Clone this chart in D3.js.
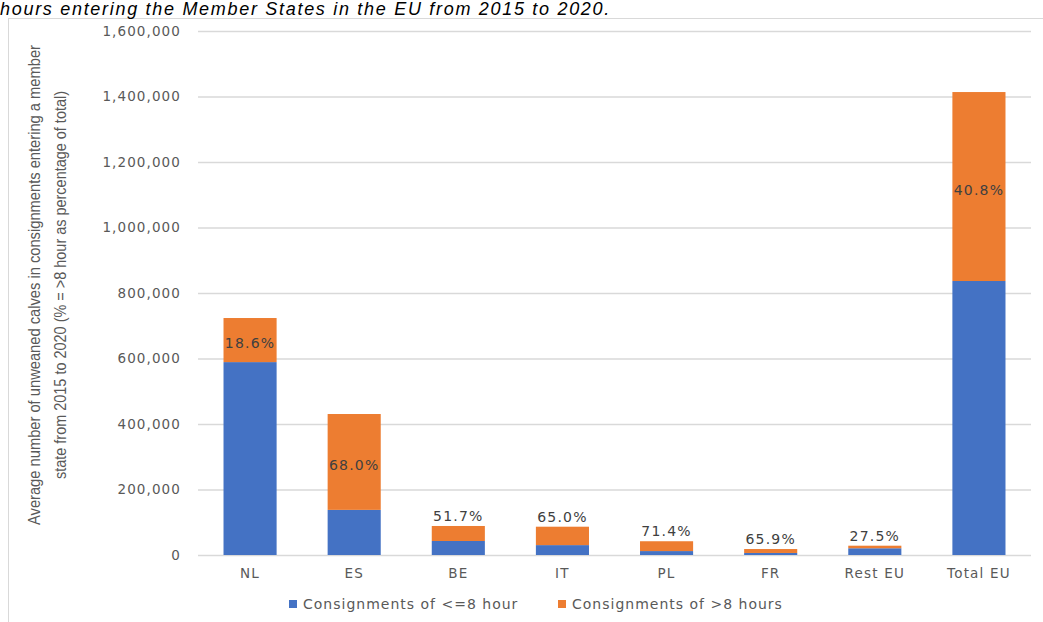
<!doctype html>
<html lang="en">
<head>
<meta charset="utf-8">
<title>Unweaned calves consignments</title>
<script src="https://cdn.jsdelivr.net/npm/d3@7"></script>
<style>
  body { margin: 0; background: #fff; }
  svg { display: block; }
  .tick text { font-family: "DejaVu Sans", sans-serif; fill: #595959; }
</style>
</head>
<body>
<div id="chart"></div>
<script>
// values
var categories = ["NL", "ES", "BE", "IT", "PL", "FR", "Rest EU", "Total EU"];
var shortTrips = [589000, 137800, 42800, 30200, 12000, 6200, 20600, 836600];   // <=8 hour
var longTrips = [134600, 292700, 45800, 56200, 30000, 12000, 7800, 577000];    // >8 hours
var yTicks = [0, 200000, 400000, 600000, 800000, 1000000, 1200000, 1400000, 1600000];
var seriesNames = ["Consignments of <=8 hour", "Consignments of >8 hours"];

var width = 1043, height = 622;
var blue = "#4472C4", orange = "#ED7D31";

var svg = d3.select("#chart").append("svg")
    .attr("width", width)
    .attr("height", height);

// frame of the pasted figure
svg.append("line").attr("x1", 8).attr("x2", width).attr("y1", 18.5).attr("y2", 18.5)
    .attr("stroke", "#d9d9d9");
svg.append("line").attr("x1", 8.5).attr("x2", 8.5).attr("y1", 18).attr("y2", height)
    .attr("stroke", "#d9d9d9");

// caption line above the figure
svg.append("text")
    .attr("x", 0).attr("y", 15)
    .style("font-family", "Liberation Sans, Arial, sans-serif")
    .style("font-style", "italic")
    .style("font-size", "18px")
    .style("letter-spacing", "1.7px")
    .attr("fill", "#000")
    .text("hours entering the Member States in the EU from 2015 to 2020.");

var x = d3.scaleBand().domain(categories).range([198, 1031])
    .paddingInner(0.49).paddingOuter(0.245);
var y = d3.scaleLinear().domain([0, 1600000]).range([555, 31]);

var yAxis = svg.append("g")
    .attr("transform", "translate(198,0)")
    .call(d3.axisLeft(y).tickValues(yTicks).tickFormat(d3.format(","))
      .tickSize(-(1031 - 198)).tickPadding(17));
yAxis.select(".domain").remove();
yAxis.selectAll(".tick line").attr("stroke", "#d9d9d9").attr("stroke-width", 1.3);
yAxis.selectAll(".tick text").style("font-size", "13.5px").style("letter-spacing", "1.1px");

var rows = categories.map(function(c, i) {
  return { cat: c, low: shortTrips[i], high: longTrips[i], total: shortTrips[i] + longTrips[i] };
});

var bars = svg.append("g");
bars.selectAll("rect.low").data(rows).enter().append("rect")
    .attr("class", "low")
    .attr("x", function(d) { return x(d.cat); })
    .attr("width", x.bandwidth())
    .attr("y", function(d) { return y(d.low); })
    .attr("height", function(d) { return y(0) - y(d.low); })
    .attr("fill", blue);
bars.selectAll("rect.high").data(rows).enter().append("rect")
    .attr("class", "high")
    .attr("x", function(d) { return x(d.cat); })
    .attr("width", x.bandwidth())
    .attr("y", function(d) { return y(d.total); })
    .attr("height", function(d) { return y(d.low) - y(d.total); })
    .attr("fill", orange);

// share of >8 h label: inside the orange part when it is tall enough, else above the bar
var pct = d3.format(".1f");
svg.append("g").selectAll("text").data(rows).enter().append("text")
    .attr("x", function(d) { return x(d.cat) + x.bandwidth() / 2; })
    .attr("y", function(d) {
      var top = y(d.total), mid = y(d.low);
      if (mid - top > 30) return (top + mid) / 2 + 8;
      return top - 5;
    })
    .attr("text-anchor", "middle")
    .style("font-family", "DejaVu Sans, sans-serif")
    .style("font-size", "14px")
    .style("letter-spacing", "1.2px")
    .attr("fill", "#404040")
    .text(function(d) { return pct(d.high / d.total * 100) + "%"; });

// category labels
svg.append("g").selectAll("text").data(categories).enter().append("text")
    .attr("x", function(d) { return x(d) + x.bandwidth() / 2; })
    .attr("y", 578)
    .attr("text-anchor", "middle")
    .style("font-family", "DejaVu Sans, sans-serif")
    .style("font-size", "13.5px")
    .style("letter-spacing", "1.2px")
    .attr("fill", "#595959")
    .text(function(d) { return d; });

// y axis title, two lines squeezed like the narrow face of the original
var yTitle = svg.append("text")
    .attr("transform", "translate(0,285) rotate(-90)")
    .attr("text-anchor", "middle")
    .style("font-family", "Liberation Sans, Arial, sans-serif")
    .style("font-size", "16px")
    .attr("fill", "#595959");
yTitle.append("tspan").attr("x", 0).attr("y", 40)
    .attr("textLength", 480).attr("lengthAdjust", "spacingAndGlyphs")
    .text("Average number of unweaned calves in consignments entering a member");
yTitle.append("tspan").attr("x", 0).attr("y", 66)
    .attr("textLength", 388).attr("lengthAdjust", "spacingAndGlyphs")
    .text("state from 2015 to 2020 (% = >8 hour as percentage of total)");

// legend
var legend = svg.append("g").attr("transform", "translate(289,600)");
var legendX = [0, 269];
seriesNames.forEach(function(name, i) {
  var g = legend.append("g").attr("transform", "translate(" + legendX[i] + ",0)");
  g.append("rect").attr("width", 8).attr("height", 8).attr("fill", i === 0 ? blue : orange);
  g.append("text").attr("x", 14).attr("y", 9)
      .style("font-family", "DejaVu Sans, sans-serif")
      .style("font-size", "14px")
      .style("letter-spacing", "1px")
      .attr("fill", "#595959")
      .text(name);
});
</script>
</body>
</html>
